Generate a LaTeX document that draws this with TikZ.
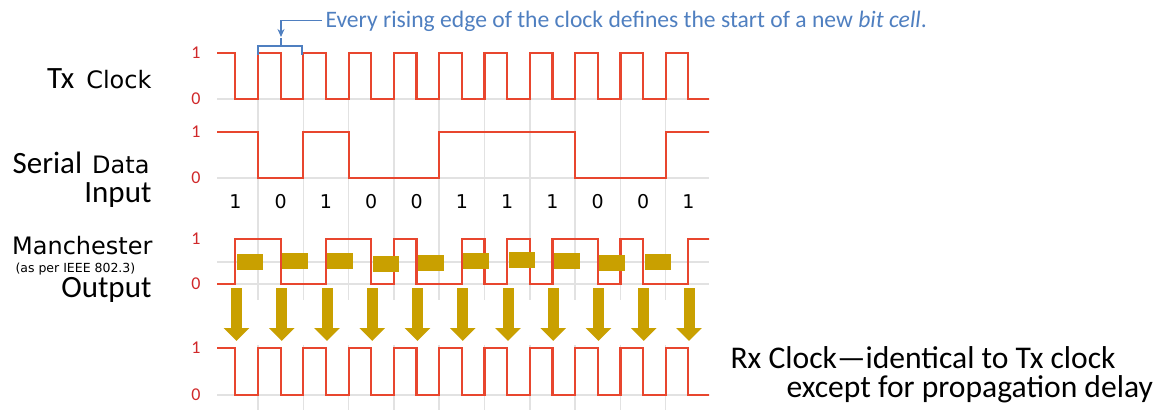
\documentclass[tikz,border=0pt]{standalone}
\usepackage{fontspec}
\setmainfont{Carlito}
\newfontfamily\dejavu{DejaVu Sans}
\usepackage{tikz}
\usetikzlibrary{arrows.meta, positioning}
\tikzset{>=stealth}
\definecolor{wavered}{HTML}{E8462E}
\definecolor{lvlred}{HTML}{D0282A}
\definecolor{syncgold}{HTML}{C9A000}
\definecolor{noteblue}{HTML}{4F7FC0}
\definecolor{gridgray}{HTML}{E2E2E2}
\tikzset{
  wave/.style={wavered, line width=2.2pt},
  gridline/.style={gridgray, line width=1.5pt},
  lvl/.style={lvlred, font=\fontsize{18}{18}\selectfont},
  sig/.style={font=\fontsize{31}{31}\selectfont, anchor=base east},
  small/.style={font=\dejavu\fontsize{24}{24}\selectfont},
  bit/.style={font=\dejavu\fontsize{19}{19}\selectfont},
  sync/.style={syncgold, line width=11pt, -{Triangle[width=25pt,length=13pt]}},
}

\begin{document}
\begin{tikzpicture}[x=1pt,y=-1pt]
\useasboundingbox (0,0) rectangle (1164,413);

% grid
\foreach \j in {1,...,10} {
  \draw[gridline] ({212.7+45.3*\j},53) -- ({212.7+45.3*\j},300);
  \draw[gridline] ({212.7+45.3*\j},345) -- ({212.7+45.3*\j},410);
}
\foreach \y in {99,178,262,284,395}
  \draw[gridline] (217,\y) -- (709,\y);

% waveforms
\begin{scope}
  \clip (217,0) rectangle (709,413);
  \foreach \hi/\lo in {53/99,348/395}
    \draw[wave] (212.7,\hi) \foreach \j in {0,...,10} {
      -- ({235.35+45.3*\j},\hi) -- ({235.35+45.3*\j},\lo)
      -- ({258+45.3*\j},\lo) -- ({258+45.3*\j},\hi)};
  \draw[wave] (212.7,132) -- (258,132) -- (258,178) -- (303.3,178) -- (303.3,132)
    -- (348.6,132) -- (348.6,178) -- (439.2,178) -- (439.2,132) -- (575.1,132)
    -- (575.1,178) -- (665.7,178) -- (665.7,132) -- (712,132);
  \draw[wave] (212.7,284) \foreach \j/\b in {0/1,1/0,2/1,3/0,4/0,5/1,6/1,7/1,8/0,9/0,10/1} {
      -- ({212.7+45.3*\j},{239+45*\b}) -- ({235.35+45.3*\j},{239+45*\b})
      -- ({235.35+45.3*\j},{284-45*\b}) -- ({258+45.3*\j},{284-45*\b})};
\end{scope}

% levels and bits
\foreach \hi/\lo in {53/99,132/178,239/284,348/395} {
  \node[lvl] (one\hi) at (196,\hi) {1};
  \node[lvl] (zero\lo) at (196,\lo) {0};
}
\foreach \j/\b in {0/1,1/0,2/1,3/0,4/0,5/1,6/1,7/1,8/0,9/0,10/1}
  \node[bit] (bit\j) at ({235.35+45.3*\j},202) {\b};

% recovered clock marks
\foreach \t [count=\j from 0] in {254,253,253,256,255,253,252,253,255,254}
  \fill[syncgold] ({236.8+45.3*\j},\t) rectangle ++(26,16);
\foreach \j in {0,...,10}
  \draw[sync] ({236.5+45.25*\j},288) -- ({236.5+45.25*\j},341);

% labels
\node[sig] (tx) at (155,88) {Tx\hspace{12pt}{\dejavu\fontsize{24}{24}\selectfont Clock}};
\node[sig] (serial) at (153,173) {Serial\hspace{10pt}{\dejavu\fontsize{24}{24}\selectfont Data}};
\node[sig] (input) at (155,202) {Input};
\node[small, anchor=base east] (manch) at (156,254) {Manchester};
\node[anchor=base west, font=\dejavu\fontsize{12.5}{12.5}\selectfont] (ieee) at (12,272) {(as per IEEE 802.3)};
\node[sig] (output) at (155,297) {Output};
\node[anchor=base west, font=\fontsize{31.6}{31.6}\selectfont] (rx) at (727,368) {Rx Clock---identical to Tx clock};
\node[anchor=base west, font=\fontsize{31.6}{31.6}\selectfont] (delay) at (783,397) {except for propagation delay};

% bit cell note
\node[anchor=base west, text=noteblue, font=\fontsize{23.6}{23.6}\selectfont] (note) at (322,27)
  {Every rising edge of the clock defines the start of a new \textit{bit cell}.};
\coordinate (cell) at (281,37);
\draw[noteblue, line width=1.2pt] (258,55) -- (258,46) -- (302,46) -- (302,55) (281,46) -- (281,38);
\draw[noteblue, line width=1.2pt, -{Stealth[length=8pt,width=7pt]}] (note.west) -| (cell);
\end{tikzpicture}
\end{document}
